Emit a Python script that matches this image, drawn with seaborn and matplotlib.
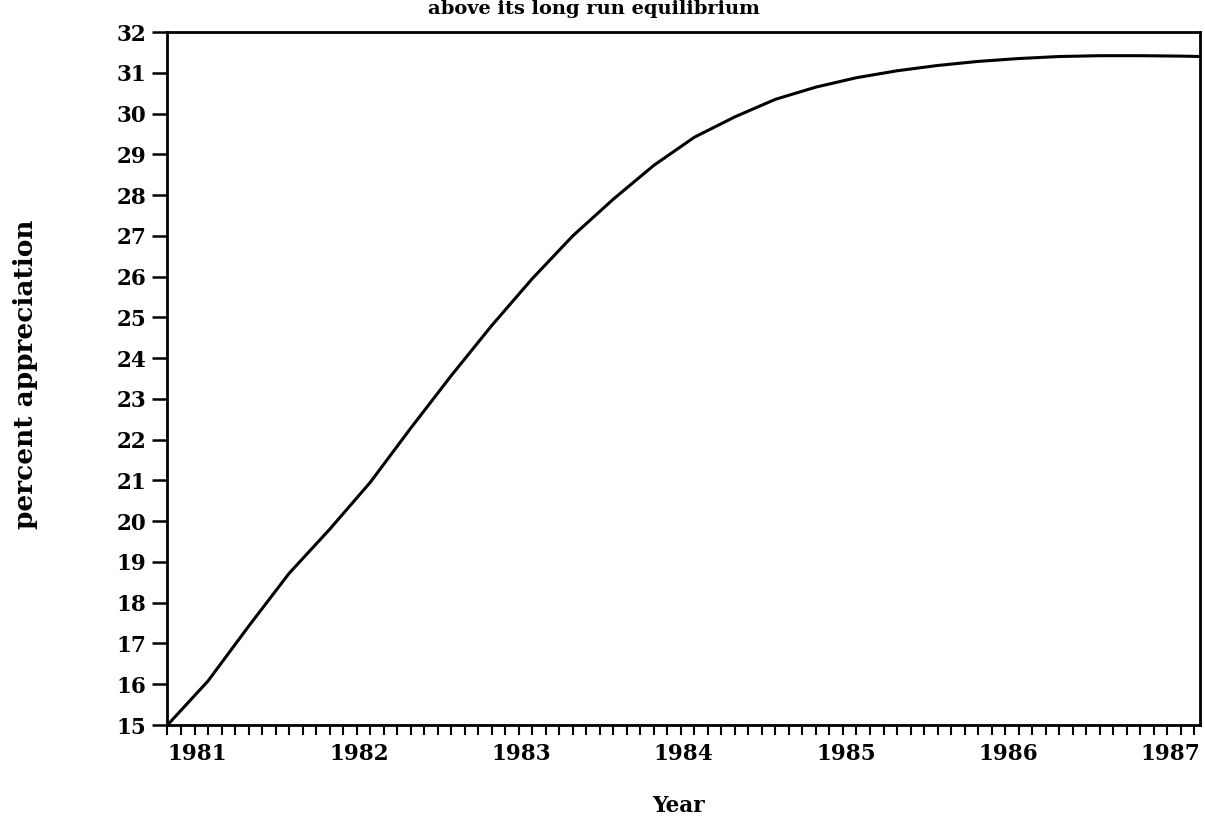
import matplotlib
matplotlib.use("Agg")
import matplotlib.pyplot as plt
import seaborn as sns
import numpy as np
import pandas as pd

# Data (quarterly, plus the value at the right edge)
years = [1981.00, 1981.25, 1981.50, 1981.75, 1982.00, 1982.25, 1982.50, 1982.75,
         1983.00, 1983.25, 1983.50, 1983.75, 1984.00, 1984.25, 1984.50, 1984.75,
         1985.00, 1985.25, 1985.50, 1985.75, 1986.00, 1986.25, 1986.50, 1986.75,
         1987.00, 1987.25, 1987.37]
appreciation = [15.00, 16.08, 17.42, 18.72, 19.80, 20.95, 22.28, 23.57,
                24.80, 25.95, 27.00, 27.90, 28.73, 29.42, 29.92, 30.35,
                30.65, 30.88, 31.05, 31.18, 31.28, 31.35, 31.40, 31.42,
                31.42, 31.41, 31.40]
year_ticks = [1981, 1982, 1983, 1984, 1985, 1986, 1987]
y_ticks = list(range(15, 33))

title = "above its long run equilibrium"
xlabel = "Year"
ylabel = "percent appreciation"

df = pd.DataFrame({"year": years, "value": appreciation})

sns.set_style("ticks")
plt.rcParams['font.family'] = ['DejaVu Serif', 'DejaVu Sans']
plt.rcParams['font.weight'] = 'bold'
plt.rcParams['text.color'] = 'black'
plt.rcParams['xtick.color'] = 'black'
plt.rcParams['ytick.color'] = 'black'

fig = plt.figure(figsize=(12.05, 8.22), dpi=100)
ax = fig.add_axes([0.139, 0.118, 0.857, 0.843])

sns.lineplot(data=df, x="year", y="value", ax=ax, color="black", linewidth=2.2)

ax.set_xlim(1981.0, 1987.37)
ax.set_ylim(15, 32)

ax.set_yticks(y_ticks)
ax.set_yticklabels([str(v) for v in y_ticks], fontsize=15.5, fontweight='bold', color='black')
ax.set_xticks(year_ticks)
ax.set_xticklabels([str(y) for y in year_ticks], fontsize=15.5, fontweight='bold', ha='left', color='black')
ax.set_xticks(np.arange(1981, 1987.4, 1/12), minor=True)

ax.tick_params(axis='y', which='major', direction='out', length=11, width=1.8, pad=4)
ax.tick_params(axis='x', which='both', direction='out', length=7, width=1.5, pad=6)

for s in ax.spines.values():
    s.set_visible(True)
    s.set_linewidth(2.0)
    s.set_color("black")

ax.set_xlabel("")
ax.set_ylabel("")
fig.text(0.563, 0.020, xlabel, ha='center', va='center', fontsize=15.5, fontweight='bold')
fig.text(0.021, 0.545, ylabel, ha='center', va='center', rotation=90, fontsize=19, fontweight='bold')
fig.text(0.493, 1.0, title, ha='center', va='top', fontsize=14, fontweight='bold')

fig.savefig("out.png", dpi=100, facecolor="white")
